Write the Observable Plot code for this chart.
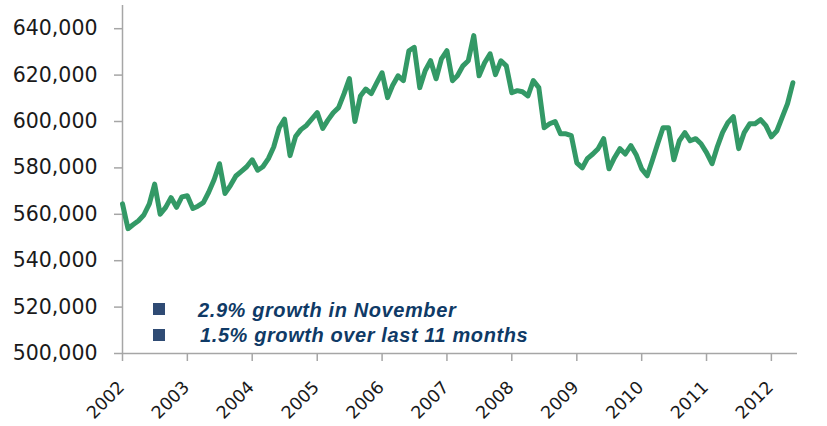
<!DOCTYPE html>
<html>
<head>
<meta charset="utf-8">
<script src="https://cdn.jsdelivr.net/npm/d3@7"></script>
<script src="https://cdn.jsdelivr.net/npm/@observablehq/plot@0.6"></script>
<style>
  html, body { margin: 0; padding: 0; background: #fff; }
  #chart { position: relative; width: 827px; height: 426px; overflow: hidden; }
  #chart svg { display: block; }
  .legend-text { position: absolute; white-space: nowrap; font-family: "Liberation Sans", Arial, sans-serif; font-weight: bold; font-style: italic; font-size: 20px; line-height: 20px; letter-spacing: 0.6px; color: #0f3a66; }
  .legend-sq { position: absolute; width: 12px; height: 12px; background: #2f4b74; }
</style>
</head>
<body>
<div id="chart"></div>
<script>
// Monthly series, Jan 2002 onward (thousands)
const startYear = 2002;
const monthlyValues = [
  564.5, 553.8, 555.5, 557.2, 559.7, 564.5, 573.0, 560.0, 563.0, 567.2, 563.0, 567.5,
  568.0, 562.5, 563.5, 565.0, 569.5, 575.0, 581.8, 569.0, 572.5, 576.5, 578.5, 580.5,
  583.5, 579.0, 580.5, 584.0, 589.0, 597.3, 601.0, 585.3, 593.5, 596.5, 598.3, 601.0,
  603.8, 597.0, 600.5, 603.8, 606.0, 612.0, 618.5, 600.0, 611.0, 614.0, 612.0, 616.5,
  621.0, 610.3, 615.5, 619.7, 617.6, 630.5, 632.0, 614.6, 622.0, 626.2, 618.4, 627.0,
  630.5, 617.6, 619.7, 624.0, 626.2, 637.0, 619.7, 625.3, 629.2, 620.2, 626.2, 624.0,
  612.4, 613.3, 612.8, 611.0, 617.6, 614.6, 597.3, 599.0, 600.0, 594.7, 594.7, 593.9,
  582.2, 580.0, 584.0, 586.0, 588.3, 592.6, 579.6, 584.4, 588.3, 586.0, 589.6, 585.7,
  579.6, 576.6, 583.0, 590.4, 597.3, 597.3, 583.5, 591.7, 595.2, 591.7, 592.6, 590.4,
  586.6, 581.8, 588.7, 595.2, 599.5, 602.1, 588.3, 595.2, 599.0, 599.0, 600.8, 598.2,
  593.4, 596.0, 601.7, 607.7, 616.7
];
const yearTicks = [2002, 2003, 2004, 2005, 2006, 2007, 2008, 2009, 2010, 2011, 2012];
const yTicks = [500000, 520000, 540000, 560000, 580000, 600000, 620000, 640000];
const yDomain = [500000, 650000];
const xDomainEnd = [2012, 4, 27];
const legendItems = ["2.9% growth in November", "1.5% growth over last 11 months"];

const data = monthlyValues.map((v, i) => ({ date: new Date(Date.UTC(startYear, i, 1)), value: v * 1000 }));
const yearDates = yearTicks.map(y => new Date(Date.UTC(y, 0, 1)));
const axisColor = "#a6a6a6";
const textColor = "#1a1a1a";

const plot = Plot.plot({
  width: 827,
  height: 426,
  marginTop: 5,
  marginBottom: 73,
  marginLeft: 122,
  marginRight: 30,
  style: { fontFamily: "DejaVu Sans, sans-serif", background: "#fff", overflow: "visible" },
  x: { type: "utc", domain: [yearDates[0], new Date(Date.UTC(...xDomainEnd))], axis: null },
  y: { domain: yDomain },
  marks: [
    Plot.ruleX([yearDates[0]], { stroke: axisColor, strokeWidth: 1.5 }),
    Plot.ruleY([yDomain[0]], { stroke: axisColor, strokeWidth: 1.5 }),
    Plot.axisY({ ticks: yTicks, tickFormat: d3.format(","), tickSize: 8, tickPadding: 17, fontSize: 20.5, stroke: axisColor, strokeWidth: 1.5, fill: textColor, label: null }),
    Plot.axisX({ ticks: yearDates, tickSize: 8, stroke: axisColor, strokeWidth: 1.5, fill: "none", label: null }),
    Plot.text(yearDates, { x: d => d, frameAnchor: "bottom", text: d => String(d.getUTCFullYear()), rotate: -45, textAnchor: "end", lineAnchor: "middle", dy: 31, dx: -1, fontSize: 17.5, fill: textColor }),
    Plot.line(data, { x: "date", y: "value", stroke: "#339966", strokeWidth: 5, strokeLinejoin: "round", strokeLinecap: "round" })
  ]
});

const chart = document.getElementById("chart");
chart.appendChild(plot);

const legendPos = [
  { sqTop: 303, textLeft: 198, textTop: 300 },
  { sqTop: 329, textLeft: 200, textTop: 325 }
];
legendItems.forEach((label, i) => {
  const sq = document.createElement("div");
  sq.className = "legend-sq";
  sq.style.left = "153px";
  sq.style.top = legendPos[i].sqTop + "px";
  chart.appendChild(sq);
  const t = document.createElement("div");
  t.className = "legend-text";
  t.style.left = legendPos[i].textLeft + "px";
  t.style.top = legendPos[i].textTop + "px";
  t.textContent = label;
  chart.appendChild(t);
});
</script>
</body>
</html>
